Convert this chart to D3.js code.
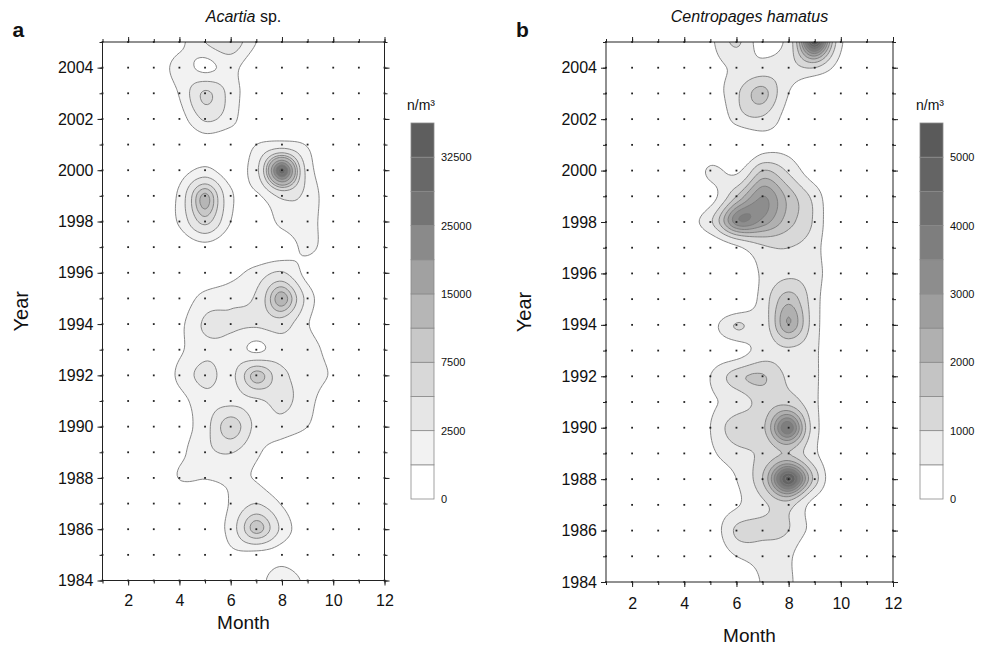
<!DOCTYPE html>
<html>
<head>
<meta charset="UTF-8">
<title>Acartia / Centropages contours</title>
<style>
  body { margin: 0; background: #fff; }
  svg text { font-family: "Liberation Sans", Arial, sans-serif; fill: #111; }
</style>
</head>
<body>
<script src="https://cdnjs.cloudflare.com/ajax/libs/d3/7.8.5/d3.min.js"></script>
<script>
// grid: rows are years 2005 -> 1984, columns are months 1..12
var years = d3.range(2005, 1983, -1);
var months = d3.range(1, 13);

var acartia = [
  [0,0,0,700,2500,4000,1000,0,0,0,0,0],        // 2005
  [0,0,200,1500,700,1400,200,0,0,0,0,0],       // 2004
  [0,0,0,1100,5500,1800,200,0,0,0,0,0],        // 2003
  [0,0,0,500,2800,1500,0,0,0,0,0,0],           // 2002
  [0,0,0,0,400,200,1000,1500,900,0,0,0],       // 2001
  [0,0,0,500,1300,500,2000,33000,1800,200,0,0],// 2000
  [0,0,0,1300,11000,1200,800,3000,2000,200,0,0], // 1999
  [0,0,0,1200,6000,1000,0,1500,1800,100,0,0],  // 1998
  [0,0,0,200,600,200,0,300,1300,300,0,0],      // 1997
  [0,0,0,0,200,600,1500,2700,600,0,0,0],       // 1996
  [0,0,0,300,1500,2000,2800,12000,1800,0,0,0], // 1995
  [0,0,0,700,2800,2800,2800,3500,1100,0,0,0],  // 1994
  [0,0,0,800,2000,1800,800,1800,1800,400,0,0], // 1993
  [0,0,0,1300,3200,2000,9000,3000,1800,800,0,0], // 1992
  [0,0,0,600,1800,2000,2200,3000,1500,200,0,0],  // 1991
  [0,0,0,500,1800,7000,2000,1800,1000,0,0,0],    // 1990
  [0,0,0,700,2000,2600,1200,400,0,0,0,0],      // 1989
  [0,0,0,1050,1050,1200,900,100,0,0,0,0],      // 1988
  [0,0,0,0,200,1100,2500,900,0,0,0,0],         // 1987
  [0,0,0,0,200,1500,9000,2000,200,0,0,0],      // 1986
  [0,0,0,0,0,700,600,500,0,0,0,0],             // 1985
  [0,0,0,0,0,0,400,2200,600,0,0,0]             // 1984
];

var centropages = [
  [0,0,0,0,400,1100,300,700,5600,600,0,0],     // 2005
  [0,0,0,0,300,600,700,800,1000,300,0,0],      // 2004
  [0,0,0,0,200,900,1700,500,0,0,0,0],          // 2003
  [0,0,0,0,0,700,900,300,0,0,0,0],             // 2002
  [0,0,0,0,0,0,300,300,0,0,0,0],               // 2001
  [0,0,0,0,600,400,1500,900,200,0,0,0],        // 2000
  [0,0,0,0,300,1500,3000,1800,800,0,0,0],      // 1999
  [0,0,0,200,900,3300,2800,1700,900,0,0,0],    // 1998
  [0,0,0,0,100,400,900,1000,700,0,0,0],        // 1997
  [0,0,0,0,0,0,600,900,700,100,0,0],           // 1996
  [0,0,0,0,0,0,700,1800,700,0,0,0],            // 1995
  [0,0,0,0,300,1050,750,2500,700,0,0,0],       // 1994
  [0,0,0,0,200,300,700,900,600,0,0,0],         // 1993
  [0,0,0,0,500,1300,1550,900,600,0,0,0],       // 1992
  [0,0,0,0,400,700,1200,1300,600,0,0,0],       // 1991
  [0,0,0,0,500,1400,1400,4000,700,0,0,0],      // 1990
  [0,0,0,0,400,800,1100,1500,600,0,0,0],       // 1989
  [0,0,0,0,200,500,1500,5200,1300,0,0,0],      // 1988
  [0,0,0,0,200,450,900,1200,300,0,0,0],        // 1987
  [0,0,0,0,200,1100,1150,1000,300,0,0,0],      // 1986
  [0,0,0,0,100,500,700,600,0,0,0,0],           // 1985
  [0,0,0,0,0,0,550,600,0,0,0,0]                // 1984
];

// contour levels (lower bound of each band) + top of colour bar
var levelsA = [0, 1000, 2500, 5000, 7500, 10000, 15000, 20000, 25000, 30000, 32500, 35000];
var levelsB = [0, 500, 1000, 1500, 2000, 2500, 3000, 3500, 4000, 4500, 5000, 5500];
var labelsA = [0, 2500, 7500, 15000, 25000, 32500];
var labelsB = [0, 1000, 2000, 3000, 4000, 5000];

var greysA = ['#ffffff','#f2f2f2','#e6e6e6','#d8d8d8','#c8c8c8','#b6b6b6','#a1a1a1','#8a8a8a','#747474','#686868','#5e5e5e'];
var greysB = ['#ffffff','#ebebeb','#d8d8d8','#c4c4c4','#b0b0b0','#9e9e9e','#8d8d8d','#7e7e7e','#707070','#646464','#5a5a5a'];

var svg = d3.select('body').append('svg')
  .attr('width', 993).attr('height', 648);

var f = 10; // upsampling factor for smooth contours

// catmull-rom between p1 and p2
function cr(p0, p1, p2, p3, t) {
  return 0.5 * ((2 * p1) + (-p0 + p2) * t + (2 * p0 - 5 * p1 + 4 * p2 - p3) * t * t +
    (-p0 + 3 * p1 - 3 * p2 + p3) * t * t * t);
}

function sample(grid, r, c) {
  r = Math.max(0, Math.min(grid.length - 1, r));
  c = Math.max(0, Math.min(grid[0].length - 1, c));
  return grid[r][c];
}

// smooth the station grid in log space so peaks come out round
function upsample(grid, off) {
  var lg = grid.map(function (row) { return row.map(function (v) { return Math.log(v + off); }); });
  var R = grid.length, C = grid[0].length;
  var nx = (C - 1) * f + 1, ny = (R - 1) * f + 1;
  var out = new Array(nx * ny);
  for (var j = 0; j < ny; j++) {
    var v = j / f, r0 = Math.min(Math.floor(v), R - 2), tv = v - r0;
    for (var i = 0; i < nx; i++) {
      var u = i / f, c0 = Math.min(Math.floor(u), C - 2), tu = u - c0;
      var col = [];
      for (var k = -1; k <= 2; k++) {
        var rr = r0 + k;
        col.push(cr(sample(lg, rr, c0 - 1), sample(lg, rr, c0), sample(lg, rr, c0 + 1), sample(lg, rr, c0 + 2), tu));
      }
      out[j * nx + i] = cr(col[0], col[1], col[2], col[3], tv);
    }
  }
  return { nx: nx, ny: ny, values: out };
}

function drawPanel(o) {
  var x = d3.scaleLinear().domain([1, 12]).range([o.left, o.right]);
  var y = d3.scaleLinear().domain([1984, 2005]).range([o.bottom, o.top]);
  var g = svg.append('g');

  g.append('clipPath').attr('id', o.id + '-clip')
    .append('rect')
    .attr('x', o.left).attr('y', o.top)
    .attr('width', o.right - o.left).attr('height', o.bottom - o.top);

  var off = o.levels[1];
  var up = upsample(o.grid, off);
  var proj = d3.geoTransform({
    point: function (gx, gy) {
      this.stream.point(x(1 + (gx - 0.5) / f), y(2005 - (gy - 0.5) / f));
    }
  });
  var path = d3.geoPath(proj);
  var bands = d3.contours()
    .size([up.nx, up.ny])
    .thresholds(o.levels.slice(1, o.levels.length - 1).map(function (l) { return Math.log(l + off); }))(up.values);

  g.append('g').attr('clip-path', 'url(#' + o.id + '-clip)')
    .selectAll('path')
    .data(bands)
    .enter().append('path')
    .attr('d', path)
    .attr('fill', function (d, i) { return o.greys[i + 1]; })
    .attr('stroke', '#7a7a7a')
    .attr('stroke-width', 0.9);

  // sampling stations
  var pts = [];
  years.forEach(function (yr) { months.forEach(function (m) { pts.push([m, yr]); }); });
  g.append('g').selectAll('rect').data(pts).enter().append('rect')
    .attr('x', function (d) { return x(d[0]) - 0.9; })
    .attr('y', function (d) { return y(d[1]) - 0.9; })
    .attr('width', 1.8).attr('height', 1.8)
    .attr('fill', '#222');

  // frame
  g.append('rect')
    .attr('x', o.left).attr('y', o.top)
    .attr('width', o.right - o.left).attr('height', o.bottom - o.top)
    .attr('fill', 'none').attr('stroke', '#222').attr('stroke-width', 1);

  var evenY = d3.range(1984, 2005, 2), evenM = d3.range(2, 13, 2);
  function ax(gen, tr, vals, size, pad) {
    var a = g.append('g').attr('transform', tr)
      .call(gen.tickValues(vals).tickSize(size).tickPadding(pad || 0)
        .tickFormat(pad ? d3.format('d') : ''));
    a.select('.domain').remove();
    a.selectAll('line').attr('stroke', '#222');
    a.selectAll('text').attr('fill', '#111').style('font-size', '16px')
      .style('font-family', '"Liberation Sans", Arial, sans-serif');
    return a;
  }
  ax(d3.axisLeft(y), 'translate(' + o.left + ',0)', years, 3);
  ax(d3.axisLeft(y), 'translate(' + o.left + ',0)', evenY, 5, 4);
  ax(d3.axisRight(y), 'translate(' + o.right + ',0)', years, 3);
  ax(d3.axisRight(y), 'translate(' + o.right + ',0)', evenY, 5);
  ax(d3.axisTop(x), 'translate(0,' + o.top + ')', months, 3);
  ax(d3.axisTop(x), 'translate(0,' + o.top + ')', evenM, 5);
  ax(d3.axisBottom(x), 'translate(0,' + o.bottom + ')', months, 3);
  ax(d3.axisBottom(x), 'translate(0,' + o.bottom + ')', evenM, 5, o.mpad);

  // titles and labels
  var cx = (o.left + o.right) / 2;
  var t = g.append('text').attr('x', cx).attr('y', 22).attr('text-anchor', 'middle')
    .style('font-size', '16px');
  t.append('tspan').style('font-style', 'italic').text(o.title[0]);
  if (o.title[1]) t.append('tspan').text(o.title[1]);

  g.append('text').attr('x', o.left - 90).attr('y', 37)
    .style('font-size', '21px').style('font-weight', 'bold').text(o.letter);

  g.append('text')
    .attr('transform', 'translate(' + (o.left - 75) + ',' + ((o.top + o.bottom) / 2) + ') rotate(-90)')
    .attr('text-anchor', 'middle').style('font-size', '20px').text('Year');

  g.append('text').attr('x', cx).attr('y', o.monthY).attr('text-anchor', 'middle')
    .style('font-size', '19px').text('Month');

  // colour bar
  var n = o.levels.length - 1;
  var cb = d3.scaleLinear().domain(o.levels)
    .range(o.levels.map(function (d, i) { return o.cbBottom - i * (o.cbBottom - o.cbTop) / n; }));
  var bar = g.append('g');
  bar.selectAll('rect').data(d3.range(n)).enter().append('rect')
    .attr('x', o.cbX).attr('width', 23)
    .attr('y', function (i) { return cb(o.levels[i + 1]); })
    .attr('height', function (i) { return cb(o.levels[i]) - cb(o.levels[i + 1]); })
    .attr('fill', function (i) { return o.greys[i]; })
    .attr('stroke', '#8a8a8a').attr('stroke-width', 0.8);
  var cbAxis = g.append('g').attr('transform', 'translate(' + (o.cbX + 23) + ',0)')
    .call(d3.axisRight(cb).tickValues(o.labels).tickSize(0).tickPadding(7).tickFormat(d3.format('d')));
  cbAxis.select('.domain').remove();
  cbAxis.selectAll('text').attr('fill', '#111').style('font-size', '11px')
    .style('font-family', '"Liberation Sans", Arial, sans-serif');

  g.append('text').attr('x', o.cbX + 10).attr('y', 110).attr('text-anchor', 'middle')
    .style('font-size', '14px').text('n/m³');
}

drawPanel({
  id: 'a', letter: 'a', title: ['Acartia', ' sp.'], grid: acartia,
  levels: levelsA, labels: labelsA, greys: greysA,
  left: 102.5, right: 384.5, top: 42, bottom: 580.5, mpad: 9, monthY: 629,
  cbX: 411, cbTop: 123, cbBottom: 499
});

drawPanel({
  id: 'b', letter: 'b', title: ['Centropages hamatus'], grid: centropages,
  levels: levelsB, labels: labelsB, greys: greysB,
  left: 606, right: 893, top: 42, bottom: 582, mpad: 11, monthY: 642,
  cbX: 920, cbTop: 123, cbBottom: 499
});
</script>
</body>
</html>
